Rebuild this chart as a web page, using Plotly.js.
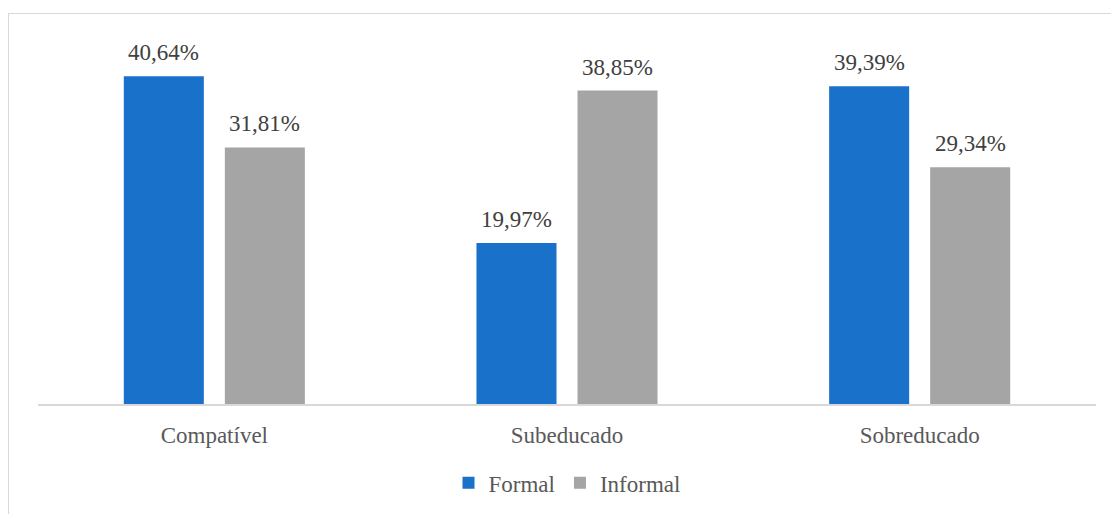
<!DOCTYPE html>
<html><head><meta charset="utf-8">
<script src="https://cdn.plot.ly/plotly-3.0.1.min.js"></script>
<style>
html,body{margin:0;padding:0;background:#fff;}
#frame{position:absolute;left:8px;top:13px;width:1200px;height:600px;border:1.5px solid #d9d9d9;box-sizing:border-box;pointer-events:none;z-index:5;}
#chart{position:absolute;left:0;top:0;width:1111px;height:514px;}
</style></head>
<body>
<div id="chart"></div>
<div id="frame"></div>
<script>
const categories = ["Compatível", "Subeducado", "Sobreducado"];
const formalValues = [40.64, 19.97, 39.39];
const informalValues = [31.81, 38.85, 29.34];
const seriesNames = ["Formal", "Informal"];

function fmt(v){ return v.toFixed(2).replace('.', ',') + '%'; }

const FAM = "Liberation Serif";
const font = {family: FAM, size: 23, color: "#595959"};
const bargap = 0.427;
const slotOffset = (1 - bargap) / 4;

const traces = [
  {type:'bar', name:seriesNames[0], x:categories, y:formalValues, marker:{color:'#1a71c9'}, hoverinfo:'none'},
  {type:'bar', name:seriesNames[1], x:categories, y:informalValues, marker:{color:'#a5a5a5'}, hoverinfo:'none'}
];

const annotations = [];
[formalValues, informalValues].forEach((vals, s) => {
  vals.forEach((v, i) => {
    annotations.push({
      x: i + (s === 0 ? -slotOffset : slotOffset), xref:'x', y: v, yref:'y',
      text: fmt(v), showarrow:false, yanchor:'bottom', yshift:9,
      font:{family:FAM, size:23, color:'#404040'}
    });
  });
});

const layout = {
  width:1111, height:514,
  margin:{l:38, r:15, t:41, b:110, autoexpand:false},
  paper_bgcolor:'#fff', plot_bgcolor:'#fff',
  barmode:'group', bargap:bargap, bargroupgap:0.208,
  font: font,
  showlegend:true,
  legend:{orientation:'h', x:0.5, xanchor:'center', y:-0.217, yanchor:'middle', font:font, itemwidth:30, tracegroupgap:0},
  xaxis:{type:'category', automargin:false, showline:true, linecolor:'#d9d9d9', linewidth:1.5, ticks:'', tickfont:font, ticklabelstandoff:10, showgrid:false, zeroline:false, fixedrange:true},
  yaxis:{range:[0,45], visible:false, showgrid:false, zeroline:false, fixedrange:true},
  annotations: annotations
};

Plotly.newPlot('chart', traces, layout, {displayModeBar:false, staticPlot:true}).then(function(){
  const t = document.querySelector('#chart .xtick text');
  document.getElementById('chart').setAttribute('data-font', t ? getComputedStyle(t).fontFamily : '');
});
</script>
</body></html>
